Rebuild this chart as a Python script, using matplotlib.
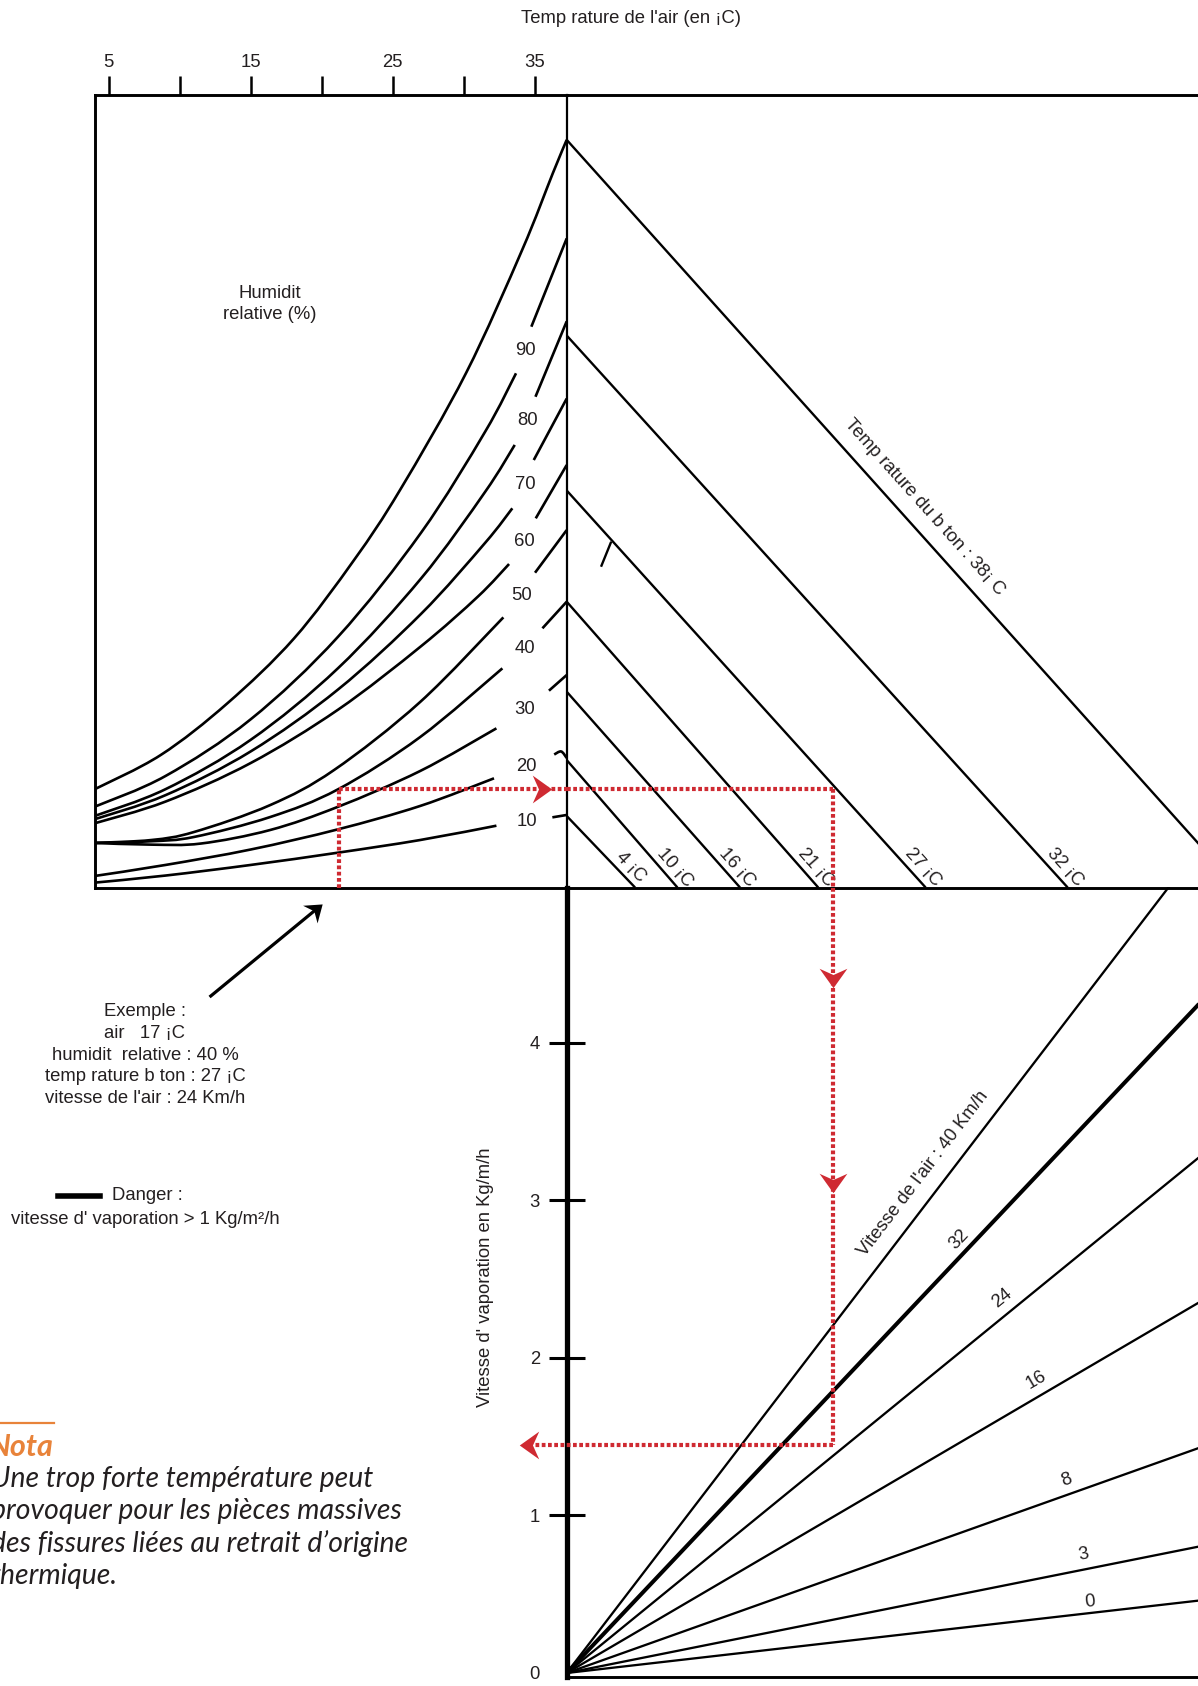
import numpy as np
import matplotlib
matplotlib.use("Agg")
import matplotlib.pyplot as plt
from matplotlib.path import Path
from matplotlib.patches import PathPatch
from matplotlib.lines import Line2D

plt.rcParams['font.family'] = ['Liberation Sans', 'DejaVu Sans']

INK = '#231f20'
RED = '#cf2a32'
ORANGE = '#e8833a'
FS = 13.3

# ---------------------------------------------------------------------------
# Données lues sur l'abaque
# ---------------------------------------------------------------------------
# échelle haute : température de l'air (°C)
T_TICKS = [5, 10, 15, 20, 25, 30, 35]
T_TICK_LABELS = ['5', '', '15', '', '25', '', '35']

# courbes d'humidité relative : (température air °C, pression de vapeur kPa)
RH100_T = [4.0, 8.66, 13.35, 18.05, 22.27, 25.51, 30.16, 34.11, 36.27, 37.25]
RH100_E = [0.871, 1.175, 1.633, 2.209, 2.903, 3.524, 4.561, 5.652, 6.332, 6.629]

RH90_T = [4.0, 9.0, 15.0, 21.15, 27.0, 31.5, 33.68]
RH90_E = [0.716, 0.989, 1.492, 2.224, 3.147, 4.04, 4.559]
RH90_UP_T = [34.76, 37.25]
RH90_UP_E = [4.972, 5.755]

RH80_T = [4.0, 9.0, 15.0, 21.15, 27.0, 31.5, 33.59]
RH80_E = [0.634, 0.872, 1.310, 1.945, 2.741, 3.507, 3.924]
RH80_UP_T = [35.05, 37.25]
RH80_UP_E = [4.351, 5.02]

RH70_T = [4.0, 9.0, 15.0, 21.15, 27.0, 31.5, 33.42]
RH70_E = [0.605, 0.819, 1.207, 1.756, 2.427, 3.055, 3.362]
RH70_UP_T = [34.93, 37.25]
RH70_UP_E = [3.79, 4.335]

RH60_T = [4.0, 9.0, 15.0, 21.15, 27.0, 31.0, 33.19]
RH60_E = [0.569, 0.762, 1.104, 1.577, 2.14, 2.58, 2.868]
RH60_UP_T = [35.07, 37.25]
RH60_UP_E = [3.273, 3.746]

RH50_T = [4.0, 8.0, 11.0, 16.37, 20.87, 26.93, 32.79]
RH50_E = [0.395, 0.421, 0.492, 0.731, 1.042, 1.645, 2.395]
RH50_UP_T = [35.02, 37.25]
RH50_UP_E = [2.791, 3.169]

RH40_T = [4.0, 8.0, 11.0, 16.37, 21.15, 26.93, 32.72]
RH40_E = [0.395, 0.41, 0.448, 0.625, 0.871, 1.334, 1.943]
RH40_UP_T = [35.54, 37.25]
RH40_UP_E = [2.298, 2.534]

RH30_T = [4.0, 8.0, 11.5, 16.37, 21.15, 26.93, 32.3]
RH30_E = [0.395, 0.38, 0.39, 0.51, 0.716, 1.033, 1.411]
RH30_UP_T = [36.0, 37.25]
RH30_UP_E = [1.745, 1.884]

RH20_T = [4.0, 9.0, 15.0, 21.15, 26.93, 32.13]
RH20_E = [0.102, 0.2, 0.337, 0.516, 0.723, 0.968]
RH20_UP_T = [36.37, 36.86, 37.25]
RH20_UP_E = [1.179, 1.206, 1.148]

RH10_T = [4.0, 9.0, 15.0, 21.15, 26.93, 32.3]
RH10_E = [0.043, 0.106, 0.2, 0.309, 0.421, 0.548]
RH10_UP_T = [36.24, 37.25]
RH10_UP_E = [0.622, 0.643]

# température du béton : départ sur l'axe (kPa) et arrivée sur la base (kPa)
BETON_T = [4, 10, 16, 21, 27, 32, 38]
BETON_E0 = [0.634, 1.130, 1.736, 2.534, 3.520, 4.894, 6.629]
BETON_X0 = [0.673, 1.090, 1.706, 2.476, 3.533, 4.931, 6.607]
STRAY_X = [0.438, 0.338]
STRAY_E = [3.066, 2.844]

# vitesse du vent (km/h) : pente kg/m2/h par kPa
VENT = [40, 32, 24, 16, 8, 3, 0]
VENT_PENTE = [0.842, 0.6825, 0.526, 0.378, 0.2296, 0.129, 0.0739]

EVAP_TICKS = [0, 1, 2, 3, 4]

# exemple tracé en rouge
EX_T = 21.18      # °C (position du trait)
EX_E = 0.871      # kPa
EX_X = 2.624      # kPa
EX_EVAP = 1.448   # kg/m2/h

# ---------------------------------------------------------------------------
W, H = 1198.0, 1686.0
fig = plt.figure(figsize=(W / 100, H / 100), dpi=100)


def box(x0, y0, x1, y1):
    return [x0 / W, 1 - y1 / H, (x1 - x0) / W, (y1 - y0) / H]


ax_rh = fig.add_axes(box(94.6, 94.6, 566.7, 887.5))
ax_b = fig.add_axes(box(566.7, 94.6, W, 887.5))
ax_e = fig.add_axes(box(566.7, 887.5, W, 1677))
for a in (ax_rh, ax_b, ax_e):
    a.set_facecolor('none')

ax_rh.set_xlim(4.0, 37.25)
ax_rh.set_ylim(0, 7.03)
ax_b.set_xlim(0, 6.214)
ax_b.set_ylim(0, 7.03)
ax_e.set_xlim(0, 6.214)
ax_e.set_ylim(-0.0254, 4.987)

# cadres
for s in ('left', 'top', 'bottom'):
    ax_rh.spines[s].set_linewidth(2.1)
ax_rh.spines['right'].set_linewidth(1.6)
for s in ('left', 'right'):
    ax_b.spines[s].set_visible(False)
for s in ('top', 'bottom'):
    ax_b.spines[s].set_linewidth(2.1)
ax_e.spines['top'].set_visible(False)
ax_e.spines['right'].set_visible(False)
ax_e.spines['left'].set_linewidth(3.8)
ax_e.spines['bottom'].set_linewidth(2.1)

# axe des températures de l'air
ax_rh.xaxis.tick_top()
ax_rh.set_xticks(T_TICKS)
ax_rh.set_xticklabels(T_TICK_LABELS)
ax_rh.tick_params(axis='x', direction='out', length=13.7, width=1.8, pad=3,
                  labelsize=FS, labelcolor=INK)
ax_rh.set_yticks([])
ax_b.set_xticks([])
ax_b.set_yticks([])

# axe évaporation
ax_e.set_xticks([])
ax_e.set_yticks(EVAP_TICKS)
ax_e.set_yticklabels([str(v) for v in EVAP_TICKS])
ax_e.tick_params(axis='y', direction='inout', length=26, width=2.2, pad=6.3,
                 labelsize=FS, labelcolor=INK)
for t in ax_e.yaxis.get_major_ticks():
    if t.get_loc() == 0:
        t.tick1line.set_visible(False)


def smooth(xs, ys):
    pts = np.column_stack([xs, ys]).astype(float)
    n = len(pts)
    if n == 2:
        return Path(pts, [Path.MOVETO, Path.LINETO])
    verts = [pts[0]]
    codes = [Path.MOVETO]
    for i in range(n - 1):
        p0 = pts[i - 1] if i > 0 else pts[i]
        p1, p2 = pts[i], pts[i + 1]
        p3 = pts[i + 2] if i + 2 < n else pts[i + 1]
        verts += [p1 + (p2 - p0) / 6, p2 - (p3 - p1) / 6, p2]
        codes += [Path.CURVE4] * 3
    return Path(verts, codes)


def curve(ax, xs, ys, lw=1.9):
    ax.add_patch(PathPatch(smooth(xs, ys), fill=False, lw=lw, ec='k',
                           capstyle='butt', zorder=3))


# courbes d'humidité
curve(ax_rh, RH100_T, RH100_E)
rh = [
    (90, RH90_T, RH90_E, RH90_UP_T, RH90_UP_E),
    (80, RH80_T, RH80_E, RH80_UP_T, RH80_UP_E),
    (70, RH70_T, RH70_E, RH70_UP_T, RH70_UP_E),
    (60, RH60_T, RH60_E, RH60_UP_T, RH60_UP_E),
    (50, RH50_T, RH50_E, RH50_UP_T, RH50_UP_E),
    (40, RH40_T, RH40_E, RH40_UP_T, RH40_UP_E),
    (30, RH30_T, RH30_E, RH30_UP_T, RH30_UP_E),
    (20, RH20_T, RH20_E, RH20_UP_T, RH20_UP_E),
    (10, RH10_T, RH10_E, RH10_UP_T, RH10_UP_E),
]
for lvl, t_lo, e_lo, t_up, e_up in rh:
    curve(ax_rh, t_lo, e_lo)
    curve(ax_rh, t_up, e_up)
    ax_rh.text((t_lo[-1] + t_up[0]) / 2 + 0.15, (e_lo[-1] + e_up[0]) / 2, str(lvl),
               ha='center', va='center', fontsize=FS, color=INK)


def line_label(ax, p0, p1, at, text, off_px, **kw):
    d0 = ax.transData.transform(p0)
    d1 = ax.transData.transform(p1)
    ang = np.degrees(np.arctan2(d1[1] - d0[1], d1[0] - d0[0]))
    if ang > 90:
        ang -= 180
    elif ang < -90:
        ang += 180
    r = np.radians(ang)
    k = 72.0 / fig.dpi
    ax.annotate(text, xy=at, xytext=(-np.sin(r) * off_px * k, np.cos(r) * off_px * k),
                textcoords='offset points', rotation=ang, rotation_mode='anchor',
                ha='center', va='center', fontsize=FS, color=INK,
                annotation_clip=False, **kw)


# lignes température du béton
for tb, e0, x0 in zip(BETON_T, BETON_E0, BETON_X0):
    ax_b.plot([0, x0], [e0, 0], color='k', lw=1.7, solid_capstyle='butt', zorder=3)
    if tb == 38:
        e_at = 3.25
        line_label(ax_b, (0, e0), (x0, 0), (x0 * (1 - e_at / e0), e_at),
                   "Temp rature du b ton : 38¡ C", 21)
    else:
        e_at = 0.11
        line_label(ax_b, (0, e0), (x0, 0), (x0 * (1 - e_at / e0), e_at),
                   f"{tb} ¡C", 11)
ax_b.plot(STRAY_X, STRAY_E, color='k', lw=1.7, solid_capstyle='butt')

# lignes vitesse du vent
FAN_LABEL_X = [3.67, 3.95, 4.38, 4.70, 4.97, 5.11, 5.16]
FAN_LABEL_OFF = [21, 13, 15.5, 15, 14, 14.5, 11.3]
xs = np.array([0, 6.3])
for v, p, lx, off in zip(VENT, VENT_PENTE, FAN_LABEL_X, FAN_LABEL_OFF):
    ax_e.plot(xs, p * xs, color='k', lw=2.9 if v == 32 else 1.65,
              solid_capstyle='butt', zorder=3)
    txt = "Vitesse de l'air : 40 Km/h" if v == 40 else str(v)
    line_label(ax_e, (0, 0), (6.0, 6.0 * p), (lx, p * lx), txt, off)

# ---------------------------------------------------------------------------
# exemple en rouge
dash = dict(color=RED, lw=3.0, linestyle=(0, (0.9, 0.6)), dash_capstyle='butt',
            zorder=6, clip_on=False)
ax_rh.plot([EX_T, EX_T], [0, EX_E], **dash)
ax_rh.plot([EX_T, 37.25], [EX_E, EX_E], **dash)
ax_b.plot([0, EX_X], [EX_E, EX_E], **dash)
ax_b.plot([EX_X, EX_X], [EX_E, 0], **dash)
ax_e.plot([EX_X, EX_X], [4.987, EX_EVAP], **dash)
ax_e.plot([EX_X, -0.37], [EX_EVAP, EX_EVAP], **dash)

HEAD = [(0.7, 0), (-0.7, 1), (-0.25, 0), (-0.7, -1), (0.7, 0)]
HEAD_CODES = [Path.MOVETO, Path.LINETO, Path.LINETO, Path.LINETO, Path.CLOSEPOLY]


def head_path(deg):
    r = np.radians(deg)
    v = [(px * np.cos(r) - py * np.sin(r), px * np.sin(r) + py * np.cos(r)) for px, py in HEAD]
    return Path(v, HEAD_CODES)


def head(ax, x, y, deg, ms=20):
    ax.plot([x], [y], marker=head_path(deg), ms=ms, color=RED, mew=0,
            linestyle='none', clip_on=False, zorder=7)


head(ax_rh, 35.48, EX_E, 0)
head(ax_e, EX_X, 4.411, -90)
head(ax_e, EX_X, 3.114, -90)
head(ax_e, -0.37, EX_EVAP, 180)

# ---------------------------------------------------------------------------
# textes
def fx(x):
    return x / W


def fy(y):
    return 1 - y / H


fig.text(fx(631), fy(18.3), "Temp rature de l'air (en ¡C)", ha='center', va='center',
         fontsize=FS, color=INK)
fig.text(fx(270), fy(304), "Humidit\nrelative (%)", ha='center', va='center',
         fontsize=FS, color=INK, linespacing=1.38)
ax_e.text(-0.1294, 0.5066, "Vitesse d' vaporation en Kg/m/h", transform=ax_e.transAxes,
          rotation=90, ha='center', va='center', fontsize=FS, color=INK)

fig.text(fx(145), fy(1055),
         "Exemple :\nair   17 ¡C\nhumidit  relative : 40 %\ntemp rature b ton : 27 ¡C\n"
         "vitesse de l'air : 24 Km/h",
         ha='center', va='center', multialignment='center', fontsize=FS, color=INK,
         linespacing=1.38)

# flèche noire de l'exemple
tail, tip = (210.8, 996.0), (316.0, 909.5)
fig.add_artist(Line2D([fx(tail[0]), fx(tip[0])], [fy(tail[1]), fy(tip[1])], lw=2.3,
                      color='k', transform=fig.transFigure))
ang = np.degrees(np.arctan2(tail[1] - tip[1], tip[0] - tail[0]))
fig.add_artist(Line2D([fx(tip[0])], [fy(tip[1])], marker=head_path(ang), ms=20,
                      color='k', mew=0, linestyle='none', transform=fig.transFigure))

fig.add_artist(Line2D([fx(58), fx(100)], [fy(1196)] * 2, lw=4, color='k',
                      transform=fig.transFigure))
fig.text(fx(112), fy(1196), "Danger :", ha='left', va='center', fontsize=FS, color=INK)
fig.text(fx(145), fy(1220), "vitesse d' vaporation > 1 Kg/m²/h", ha='center', va='center',
         fontsize=FS, color=INK)

fig.add_artist(Line2D([0, fx(54)], [fy(1423)] * 2, lw=1.6, color=ORANGE,
                      transform=fig.transFigure))
fig.text(fx(54), fy(1447), "Nota", ha='right', va='center', fontsize=22,
         family=['Lato', 'DejaVu Sans'], style='italic', weight='bold', color=ORANGE)
nota = ["Une trop forte température peut",
        "provoquer pour les pièces massives",
        "des fissures liées au retrait d’origine",
        "thermique."]
for i, line in enumerate(nota):
    fig.text(fx(-9), fy(1479.3 + 32.2 * i), line, ha='left', va='center', fontsize=20.4,
             family=['Lato', 'DejaVu Sans'], style='italic', color=INK)

fig.savefig('out.png', dpi=100)
